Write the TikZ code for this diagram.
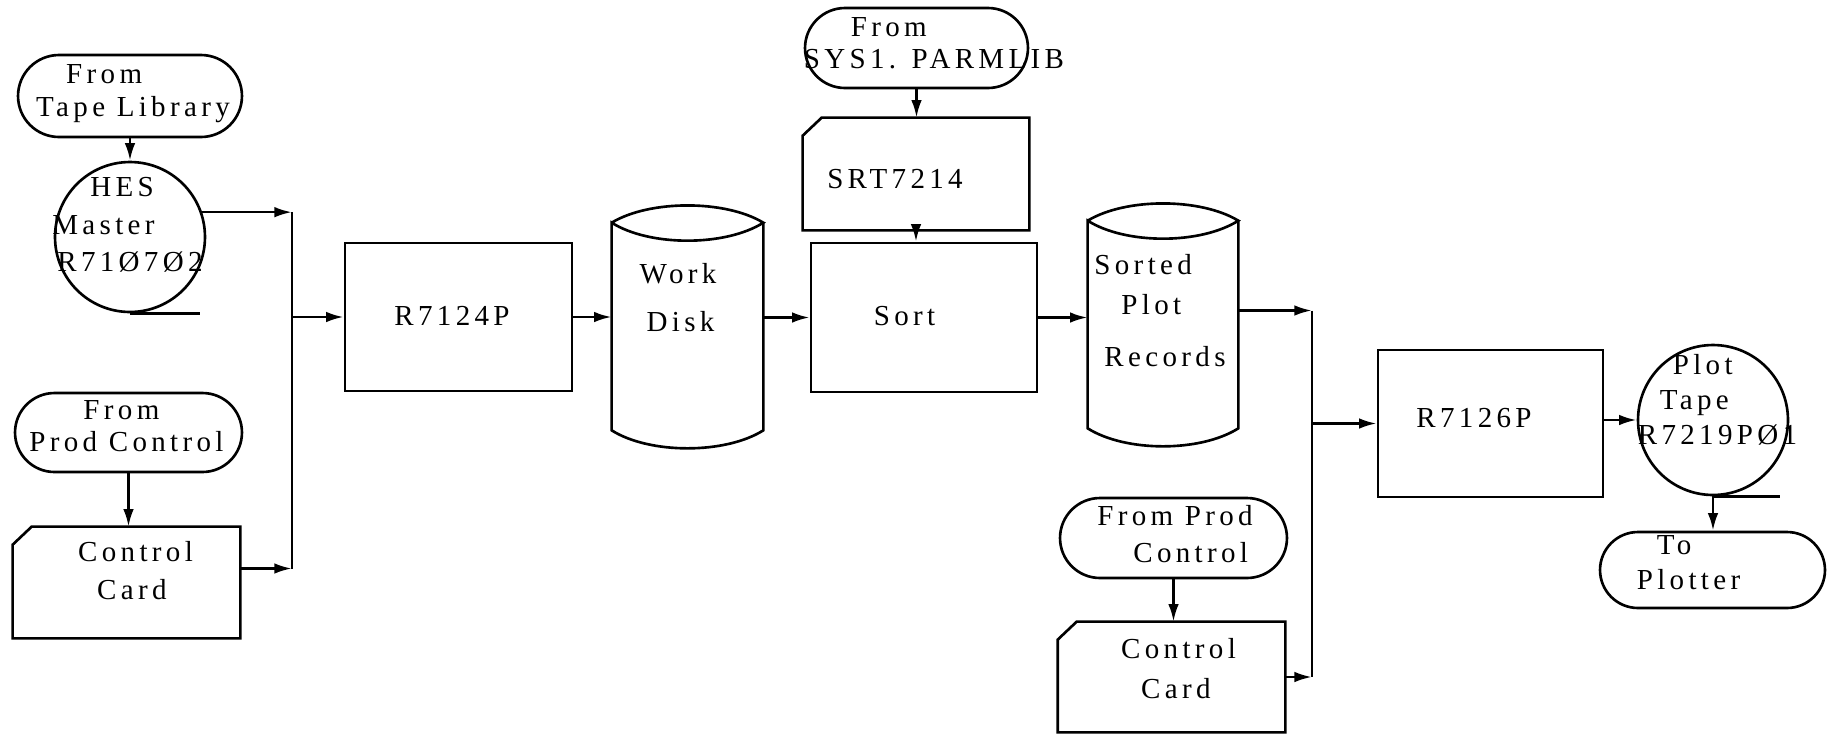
\documentclass[tikz,border=0pt]{standalone}
\usepackage{fontspec}
\setmainfont{Liberation Serif}[LetterSpace=15]
\usetikzlibrary{arrows.meta,calc,shapes.misc}

\tikzset{
  flow/.style={draw, line width=1.5pt, inner sep=0pt},
  term/.style={flow, rounded rectangle, minimum width=4.5cm, minimum height=1.6cm},
  tape/.style={flow, circle, minimum size=3cm},
  proc/.style={flow, rectangle, minimum width=4.5cm, minimum height=2.96cm},
  frame/.style={inner sep=0pt, rectangle},
  lbl/.style={align=left, inner sep=0pt, font=\fontsize{16.5}{#1}\selectfont},
  lbl/.default=19,
  wire/.style={line width=1.5pt},
  conn/.style={wire, -{Latex[length=10pt,width=6pt]}}
}

\begin{document}
\begin{tikzpicture}[x=0.02cm,y=-0.02cm]
\useasboundingbox[fill=white] (0,0) rectangle (1833,735);

% left inputs
\node[term, minimum width=4.48cm, minimum height=1.64cm] (tapelib) at (130,96) {};
\node[tape] (hes) at (130,237) {};
\node[term, minimum width=4.54cm, minimum height=1.58cm] (prod1) at (128.5,432.5) {};
\node[frame, minimum width=4.54cm, minimum height=2.22cm] (card1) at (126.5,582.5) {};

% first program and work disk
\node[proc, minimum width=4.54cm] (r7124) at (458.5,317) {};
\node[frame, minimum width=3.02cm, minimum height=4.5cm] (wd) at (687.5,317.5) {};

% sort step
\node[term, minimum width=4.46cm] (sys) at (916.5,48) {};
\node[frame, minimum width=4.52cm, minimum height=2.24cm] (srt) at (916,174) {};
\node[proc, minimum width=4.52cm, minimum height=2.98cm] (sort) at (924,317.5) {};
\node[frame, minimum width=3cm, minimum height=4.5cm] (sorted) at (1163,315.5) {};

% second program and output
\node[term, minimum width=4.54cm] (prod2) at (1173.5,538) {};
\node[frame, minimum width=4.54cm, minimum height=2.2cm] (card2) at (1171.5,677) {};
\node[proc, minimum width=4.5cm, minimum height=2.94cm] (r7126) at (1490.5,423.5) {};
\node[tape] (plottape) at (1713,420) {};
\node[term, minimum width=4.5cm, minimum height=1.52cm] (plotter) at (1712.5,570) {};

% card and disk outlines
\foreach \c in {card1,srt,card2}
  \draw[wire] (\c.south west) -- ($(\c.north west)+(0,18)$) -- ($(\c.north west)+(19,0)$)
    -- (\c.north east) -- (\c.south east) -- cycle;
\foreach \c in {wd,sorted}
  \draw[wire] ($(\c.north west)+(0,18)$) coordinate (a)
    .. controls ($(\c.north west)+(38,-5)$) and ($(\c.north east)+(-38,-5)$) .. ($(\c.north east)+(0,18)$) coordinate (b)
    .. controls ($(\c.north east)+(-38,42)$) and ($(\c.north west)+(38,42)$) .. (a)
    -- (\c.south west)
    .. controls ($(\c.south west)+(38,24)$) and ($(\c.south east)+(-38,24)$) .. (\c.south east)
    -- (b);

% texts
\node[lbl=18.8] (tapelib-t) at (133,94) {\hspace*{0.6cm}From\\Tape Library};
\node[lbl=21.3] (hes-t) at (127.5,225) {\hspace*{0.76cm}HES\\Master\\\hspace*{0.1cm}R71Ø7Ø2};
\node[lbl=18.2] (prod1-t) at (126.5,426) {\hspace*{1.08cm}From\\Prod Control};
\node[lbl=21.6] (card1-t) at (135.5,571) {Control\\\hspace*{0.38cm}Card};
\node[lbl] (r7124-t) at (452,316) {R7124P};
\node[lbl=27.3] (wd-t) at (678,298) {Work\\\hspace*{0.14cm}Disk};
\node[lbl=18.2] (sys-t) at (934,43) {\hspace*{0.94cm}From\\SYS1. PARMLIB};
\node[lbl] (srt-t) at (895,179) {SRT7214};
\node[lbl] (sort-t) at (904.5,316) {Sort};
\node[lbl=22.8] (sorted-t) at (1160,311) {Sorted\\\hspace*{0.54cm}Plot\\[0.24cm]\hspace*{0.2cm}Records};
\node[lbl=21] (prod2-t) at (1175,534) {From Prod\\\hspace*{0.72cm}Control};
\node[lbl=22.8] (card2-t) at (1178.5,669) {Control\\\hspace*{0.4cm}Card};
\node[lbl] (r7126-t) at (1474,418) {R7126P};
\node[lbl=19.9] (plottape-t) at (1717.5,400) {\hspace*{0.7cm}Plot\\\hspace*{0.44cm}Tape\\R7219PØ1};
\node[lbl=19.9] (plotter-t) at (1688.5,563) {\hspace*{0.4cm}To\\Plotter};

% tape tails
\draw[wire] (hes.south) -- ++(70,0);
\draw[wire] (plottape.south) -- ++(67,0);

% left merge
\coordinate (jl) at (292,318);
\coordinate (c1out) at ($(card1.east)+(0,-14)$);
\draw[conn] (tapelib) -- (hes);
\draw[conn] (prod1.south) -- (prod1.south |- card1.north);
\draw[conn] (hes.19) -- (hes.19 -| jl);
\draw[conn] (c1out) -- (c1out -| jl);
\draw[wire] (hes.19 -| jl) -- (c1out -| jl);
\draw[conn] (r7124.west -| jl) -- (r7124.west);
\draw[conn] (r7124.east) -- (r7124.east -| wd.west);
\draw[conn] (wd.east) -- (wd.east -| sort.west);
\draw[conn] (sys.south) -- (sys.south |- srt.north);
\draw[conn] (srt.south) -- (srt.south |- sort.north);
\draw[conn] (sort.east) -- (sort.east -| sorted.west);

% right merge
\coordinate (jr) at (1312,420);
\coordinate (sout) at ($(sorted.east)+(0,-5)$);
\draw[conn] (prod2.south) -- (prod2.south |- card2.north);
\draw[conn] (sout) -- (sout -| jr);
\draw[conn] (card2.east) -- (card2.east -| jr);
\draw[wire] (sout -| jr) -- (card2.east -| jr);
\draw[conn] (r7126.west -| jr) -- (r7126.west);
\draw[conn] (plottape.west -| r7126.east) -- (plottape.west);
\draw[conn] (plottape.south) -- (plottape.south |- plotter.north);

\end{tikzpicture}
\end{document}
